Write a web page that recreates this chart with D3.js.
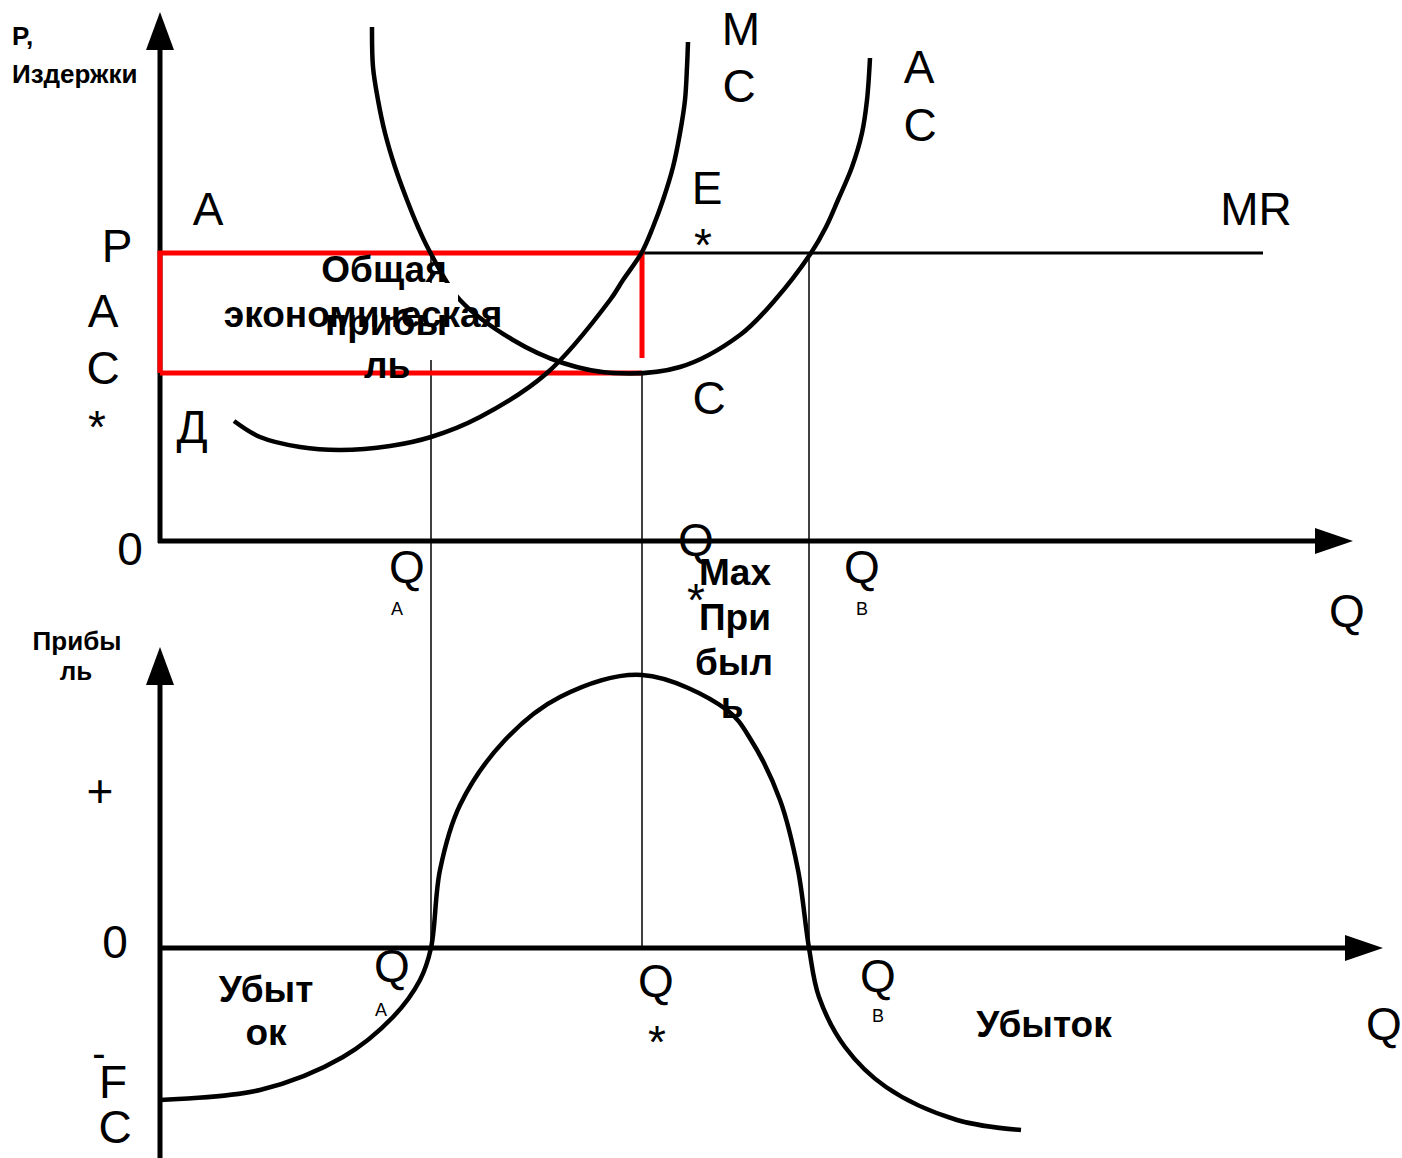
<!DOCTYPE html>
<html>
<head>
<meta charset="utf-8">
<script src="https://cdn.jsdelivr.net/npm/d3@7"></script>
<style>
  body { margin: 0; background: #fff; }
  svg { display: block; font-family: 'Liberation Sans', Arial, sans-serif; }
</style>
</head>
<body>
<div id="chart"></div>
<script>
// --- data (Q, value) ---
const mcCurve = [
  [7.4, 12.0], [10.0, 10.4], [14.0, 9.4], [18.0, 9.1], [23.0, 9.5], [27.1, 10.4],
  [32.0, 12.4], [38.7, 16.8], [45.0, 24.1], [46.3, 26.1], [48.2, 28.9], [49.3, 31.4],
  [50.3, 34.1], [51.3, 37.4], [52.0, 40.8], [52.5, 44.1], [52.7, 47.4], [52.8, 49.9]
];
const acCurve = [
  [21.2, 51.4], [21.3, 47.4], [21.8, 44.1], [22.5, 40.8], [23.5, 37.4], [24.7, 34.1],
  [25.8, 31.4], [27.0, 28.9], [30.0, 24.1], [35.3, 20.1], [40.3, 17.8], [45.3, 16.8],
  [52.0, 17.4], [58.0, 20.6], [61.5, 24.1], [65.1, 28.8], [66.6, 31.4], [67.8, 34.1],
  [69.2, 37.4], [70.2, 40.8], [70.7, 44.1], [71.0, 48.3]
];
const profitCurve = [
  [0, -15.2], [10.0, -14.2], [18.3, -10.9], [23.3, -6.9], [26.0, -3.2], [27.1, 0],
  [28.0, 7.8], [30.0, 14.3], [34.5, 20.8], [40.0, 25.1], [48.2, 27.3], [56.7, 23.8],
  [59.1, 20.8], [62.0, 14.8], [63.8, 7.8], [64.9, 0], [65.9, -4.9], [68.5, -9.9],
  [72.6, -13.9], [79.7, -17.2], [86.1, -18.2]
];
const priceP = 28.8;     // MR = P
const acStar = 16.8;     // AC*
const redDrop = 18.3;    // bottom of red vertical at Q*
const qA = 27.1, qStar = 48.2, qB = 64.9;
const mrEnd = 110.3;
const topAxisEnd = { q: 119.3, c: 52.9 };
const botAxisEnd = { q: 122.3, p: 30.1, pMin: -21 };

// labels: text, x, y (baseline), size, bold, anchor
const labels = [
  ['P,', 12, 45, 26, true, 'start'],
  ['Издержки', 12, 83, 26, true, 'start'],
  ['M', 741, 45, 46], ['C', 739, 102, 46],
  ['A', 919, 83, 46], ['C', 920, 141, 46],
  ['E', 707, 204, 46], ['*', 703, 261, 46],
  ['A', 208, 225, 46],
  ['P', 117, 262, 46],
  ['A', 103, 327, 46], ['C', 103, 384, 46], ['*', 97, 443, 46],
  ['Д', 192, 443, 46],
  ['0', 130, 565, 46],
  ['MR', 1256, 225, 46],
  ['C', 709, 414, 46],
  ['Q', 407, 583, 46], ['A', 397, 615, 18],
  ['Q', 696, 556, 46], ['*', 696, 616, 46],
  ['Q', 862, 583, 46], ['B', 862, 615, 18],
  ['Q', 1347, 627, 46],
  ['Max', 735, 585, 37, true], ['При', 735, 630, 37, true],
  ['был', 734, 675, 37, true], ['ь', 732, 718, 37, true],
  ['Прибы', 77, 650, 26, true], ['ль', 76, 680, 26, true],
  ['+', 100, 807, 46],
  ['0', 115, 958, 46],
  ['-', 99, 1067, 40], ['F', 113, 1098, 46], ['C', 115, 1143, 46],
  ['Убыт', 266, 1002, 37, true], ['ок', 266, 1045, 37, true],
  ['Q', 392, 982, 46], ['A', 381, 1016, 18],
  ['Q', 656, 997, 46], ['*', 657, 1058, 46],
  ['Q', 878, 992, 46], ['B', 878, 1022, 18],
  ['Убыток', 1044, 1037, 37, true],
  ['Q', 1384, 1040, 46]
];
const profitLabels = [
  ['Общая', 384, 282], ['экономическая', 363, 327], ['прибы', 386, 335], ['ль', 387, 378]
];

const width = 1402;
const height = 1158;

const svg = d3.select('#chart').append('svg')
  .attr('width', width)
  .attr('height', height);

const x = d3.scaleLinear().domain([0, 120]).range([160, 1360]);
const yTop = d3.scaleLinear().domain([0, 53]).range([541, 11]);
const yBot = d3.scaleLinear().domain([-21, 30]).range([1158, 648]);

const arrowLen = 38, arrowHalf = 14;

// --- axes ---
function vAxis(x0, yStart, yTip) {
  svg.append('line')
    .attr('x1', x0).attr('x2', x0)
    .attr('y1', yStart).attr('y2', yTip + arrowLen)
    .attr('stroke', '#000').attr('stroke-width', 5);
  svg.append('path')
    .attr('d', `M${x0},${yTip}L${x0 - arrowHalf},${yTip + arrowLen}L${x0 + arrowHalf},${yTip + arrowLen}Z`)
    .attr('fill', '#000');
}
function hAxis(y0, xStart, xTip) {
  svg.append('line')
    .attr('x1', xStart).attr('x2', xTip - arrowLen)
    .attr('y1', y0).attr('y2', y0)
    .attr('stroke', '#000').attr('stroke-width', 5);
  svg.append('path')
    .attr('d', `M${xTip},${y0}L${xTip - arrowLen},${y0 - arrowHalf + 1}L${xTip - arrowLen},${y0 + arrowHalf - 1}Z`)
    .attr('fill', '#000');
}

vAxis(x(0), yTop(0) + 2, yTop(topAxisEnd.c));
hAxis(yTop(0), x(0) - 2, x(topAxisEnd.q));
vAxis(x(0), yBot(botAxisEnd.pMin), yBot(botAxisEnd.p));
hAxis(yBot(0), x(0) - 2, x(botAxisEnd.q));

// --- thin guide lines ---
const guides = [[qA, priceP], [qStar, acStar], [qB, priceP]];
svg.append('g').selectAll('line')
  .data(guides)
  .join('line')
  .attr('x1', d => x(d[0])).attr('x2', d => x(d[0]))
  .attr('y1', d => yTop(d[1])).attr('y2', yBot(0))
  .attr('stroke', '#000').attr('stroke-width', 1.5);

// MR line
svg.append('line')
  .attr('x1', x(qStar)).attr('x2', x(mrEnd))
  .attr('y1', yTop(priceP)).attr('y2', yTop(priceP))
  .attr('stroke', '#000').attr('stroke-width', 3);

// red profit rectangle
const red = svg.append('g').attr('stroke', '#ff0000').attr('stroke-width', 5).attr('fill', 'none');
red.append('path')
  .attr('d', `M${x(0)},${yTop(acStar)}L${x(0)},${yTop(priceP)}L${x(qStar)},${yTop(priceP)}L${x(qStar)},${yTop(redDrop)}`);
red.append('line')
  .attr('x1', x(0)).attr('x2', x(qStar))
  .attr('y1', yTop(acStar)).attr('y2', yTop(acStar));

// curves
const topLine = d3.line().x(d => x(d[0])).y(d => yTop(d[1])).curve(d3.curveCatmullRom);
const botLine = d3.line().x(d => x(d[0])).y(d => yBot(d[1])).curve(d3.curveCatmullRom);

[mcCurve, acCurve].forEach(c => {
  svg.append('path').attr('d', topLine(c))
    .attr('fill', 'none').attr('stroke', '#000').attr('stroke-width', 4.5);
});
svg.append('path').attr('d', botLine(profitCurve))
  .attr('fill', 'none').attr('stroke', '#000').attr('stroke-width', 4.5);

// white box behind the "прибыль" caption
svg.append('rect')
  .attr('x', 322).attr('y', 283).attr('width', 136).attr('height', 77)
  .attr('fill', '#fff');

// --- text ---
svg.append('g').selectAll('text')
  .data(labels)
  .join('text')
  .attr('x', d => d[1]).attr('y', d => d[2])
  .attr('font-size', d => d[3])
  .attr('font-weight', d => d[4] ? 'bold' : 'normal')
  .attr('text-anchor', d => d[5] || 'middle')
  .text(d => d[0]);

svg.append('g').selectAll('text')
  .data(profitLabels)
  .join('text')
  .attr('x', d => d[1]).attr('y', d => d[2])
  .attr('font-size', 37)
  .attr('font-weight', 'bold')
  .attr('text-anchor', 'middle')
  .text(d => d[0]);
</script>
</body>
</html>
